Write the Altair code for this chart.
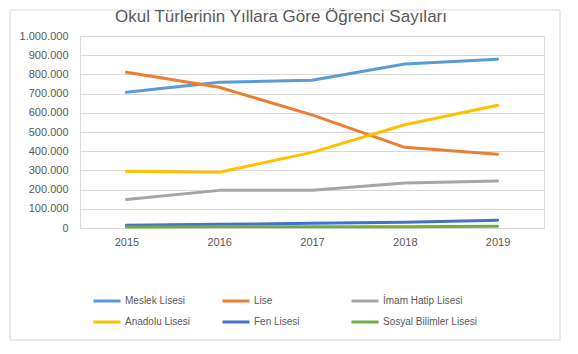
import altair as alt
import pandas as pd

years = ["2015", "2016", "2017", "2018", "2019"]
series = ["Meslek Lisesi", "Lise", "İmam Hatip Lisesi", "Anadolu Lisesi", "Fen Lisesi", "Sosyal Bilimler Lisesi"]
meslek = [707000, 759000, 769000, 854000, 879000]
lise = [811000, 733000, 589000, 420000, 384000]
imam = [149000, 196000, 196000, 234000, 245000]
anadolu = [295000, 290000, 394000, 538000, 639000]
fen = [14000, 19000, 25000, 30000, 40000]
sosyal = [5000, 6000, 7000, 7000, 9000]
colors = ["#5B9BD5", "#ED7D31", "#A5A5A5", "#FFC000", "#4472C4", "#70AD47"]

values = [meslek, lise, imam, anadolu, fen, sosyal]
rows = []
for s, vals in zip(series, values):
    for y, v in zip(years, vals):
        rows.append({"Yıl": y, "Tür": s, "Sayı": v})
df = pd.DataFrame(rows)

# legend is laid out column-first in 2 rows: reorder so rows read like the reference
legend_order = [0, 3, 1, 4, 2, 5]
dom = [series[i] for i in legend_order]
rng = [colors[i] for i in legend_order]

FONT = "Liberation Sans"
GREY = "#595959"

lines = alt.Chart(df).mark_line(strokeWidth=3, strokeCap="round", strokeJoin="round").encode(
    x=alt.X("Yıl:O", scale=alt.Scale(type="point", padding=0.5),
            axis=alt.Axis(title=None, labelAngle=0, ticks=False, domain=False,
                          labelPadding=8, labelFontSize=11, labelColor=GREY, labelFont=FONT)),
    y=alt.Y("Sayı:Q", scale=alt.Scale(domain=[0, 1000000], nice=False),
            axis=alt.Axis(title=None, values=list(range(0, 1000001, 100000)), ticks=False, domain=False,
                          labelPadding=12, labelFontSize=11, labelColor=GREY, labelFont=FONT,
                          gridColor="#D9D9D9", gridWidth=1,
                          labelExpr="replace(format(datum.value, ','), /,/g, '.')")),
    color=alt.Color("Tür:N", scale=alt.Scale(domain=dom, range=rng),
                    legend=alt.Legend(title=None, orient="none", legendX=12, legendY=250,
                                      columns=3, symbolType="stroke", symbolSize=729,
                                      symbolStrokeWidth=3, labelFontSize=10, labelColor=GREY,
                                      labelFont=FONT, labelOffset=3, columnPadding=-3,
                                      rowPadding=-5, gridAlign="all", labelLimit=200)),
    order=alt.Order("Yıl:O"),
)

border_df = pd.DataFrame({"k": [0]})
border = alt.Chart(border_df).mark_rect(fill="white", fillOpacity=0, stroke="#D9D9D9", strokeWidth=1).encode(
    x=alt.value(-70), x2=alt.value(480), y=alt.value(-26), y2=alt.value(304)
)

chart = alt.layer(border, lines).properties(
    width=464, height=192,
    padding={"left": 80, "top": 36, "right": 34, "bottom": 126},
    autosize=alt.AutoSizeParams(type="none"),
    title=alt.TitleParams("Okul Türlerinin Yıllara Göre Öğrenci Sayıları", font=FONT, fontSize=17,
                          fontWeight="normal", color=GREY, anchor="middle", dx=-31, dy=20, offset=4),
).configure_view(stroke=None).configure(background="white")

chart.save("out.html", embed_options={"renderer": "svg", "actions": False})
